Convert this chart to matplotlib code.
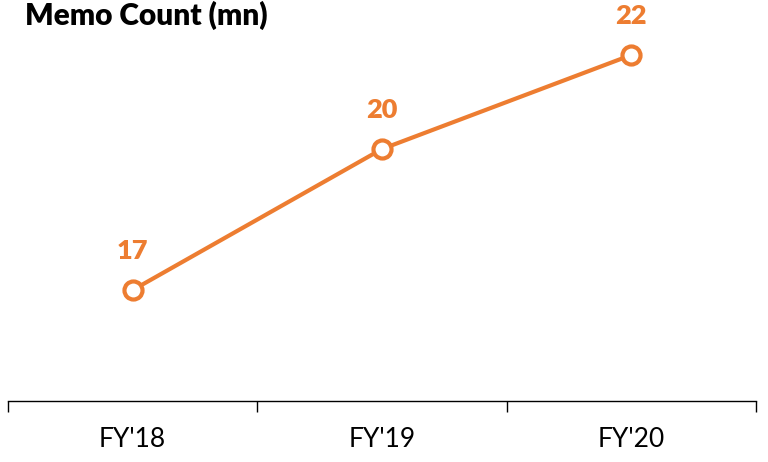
import matplotlib
matplotlib.use("Agg")
import matplotlib.pyplot as plt

categories = ["FY'18", "FY'19", "FY'20"]
memo_count = [17, 20, 22]

ORANGE = "#ED7D31"
plt.rcParams['font.family'] = ['Lato', 'DejaVu Sans']

fig = plt.figure(figsize=(7.68, 4.62), dpi=100)
ax = fig.add_axes([8 / 768, 1 - 401 / 462, 748 / 768, 401 / 462])

x = list(range(len(categories)))
ax.plot(x, memo_count, color=ORANGE, lw=3, marker="o", ms=13,
        mfc="white", mec=ORANGE, mew=3, zorder=3, clip_on=False)

for xi, v in zip(x, memo_count):
    ax.annotate(f"{v}", (xi, v), xytext=(0, 28), textcoords="offset points",
                ha="center", va="center", fontsize=19.5, fontweight="heavy",
                color=ORANGE)

ax.set_xlim(-0.5, len(categories) - 0.5)
ax.set_ylim(14.64, 23.17)

# category boundaries as major ticks, category names as minor tick labels
ax.set_xticks([i - 0.5 for i in range(len(categories) + 1)])
ax.set_xticklabels([])
ax.set_xticks(x, minor=True)
ax.set_xticklabels(categories, minor=True)
ax.tick_params(axis="x", which="major", length=8, width=1, color="#000000")
ax.tick_params(axis="x", which="minor", length=0, pad=19, labelsize=19,
               labelcolor="#000000")
ax.set_yticks([])

for side in ("left", "right", "top"):
    ax.spines[side].set_visible(False)
ax.spines["bottom"].set_color("#000000")
ax.spines["bottom"].set_linewidth(1)
ax.patch.set_alpha(0)

fig.text(25 / 768, 1 - 25 / 462, "Memo Count (mn)", ha="left", va="baseline",
         fontsize=21.5, fontweight="heavy", color="#000000")

fig.savefig("out.png", dpi=100)
